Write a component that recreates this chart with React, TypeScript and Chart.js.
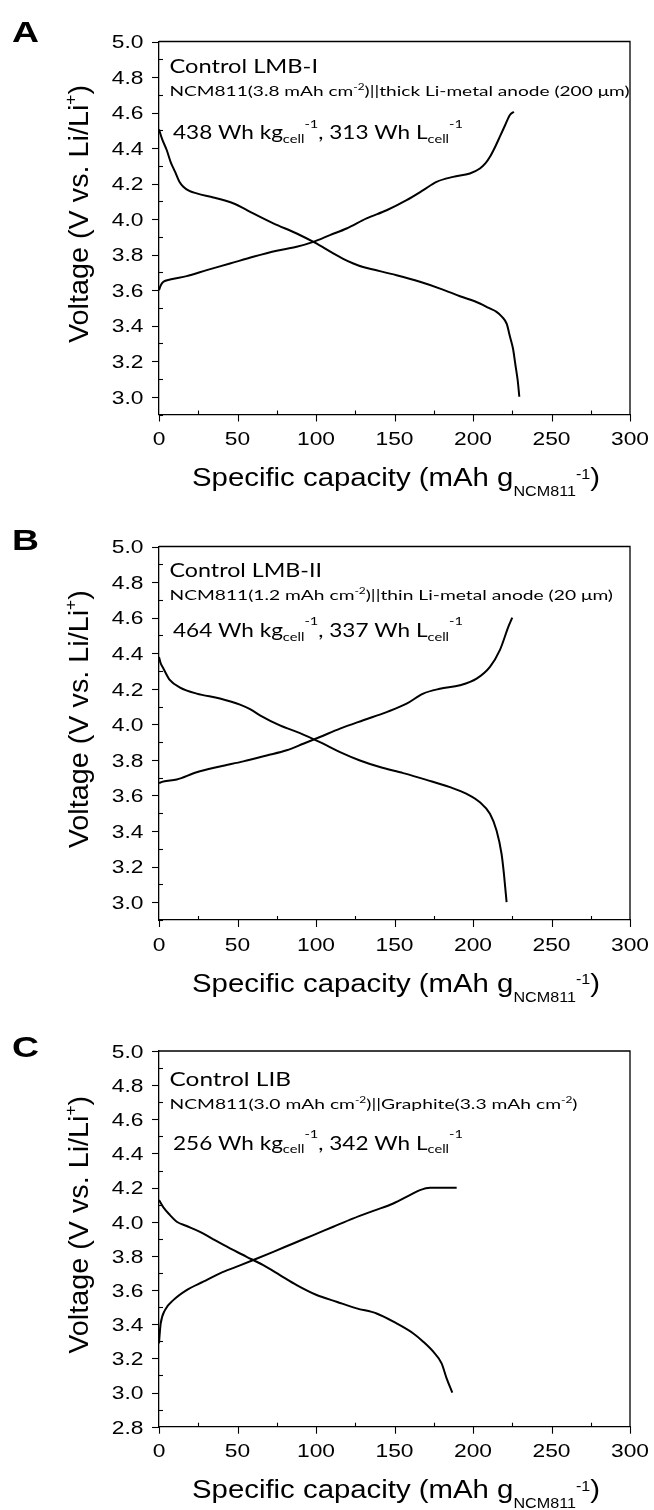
import React, { useEffect, useRef } from 'react';
import { Chart, registerables } from 'chart.js';

Chart.register(...registerables);

// ---------------- data ----------------
const xTicks = [0, 50, 100, 150, 200, 250, 300];

const aDisX = [0, 2, 4.9, 7.5, 10.2, 13, 15.5, 19, 24, 34.6, 42, 48.4, 54, 60, 72.8, 87.7, 99.3, 111, 117, 123.8, 130, 136.5, 151.3, 166.2, 179, 191.7, 204.4, 210, 215, 218.5, 221.5, 223.5, 225.5, 227, 228.5, 229.5];
const aDisY = [4.505, 4.45, 4.389, 4.32, 4.267, 4.21, 4.182, 4.16, 4.145, 4.122, 4.105, 4.085, 4.06, 4.032, 3.976, 3.919, 3.867, 3.807, 3.778, 3.75, 3.73, 3.716, 3.684, 3.647, 3.609, 3.566, 3.525, 3.5, 3.478, 3.45, 3.41, 3.34, 3.27, 3.18, 3.09, 3.0];
const aChX = [0, 1, 2.8, 7, 17.6, 30.4, 45.2, 60, 75, 87.7, 98.3, 108.9, 119.5, 132.2, 145, 157.7, 168.3, 176.8, 187.4, 198, 204.4, 208, 210.8, 214, 217.1, 220.5, 223.5, 226];
const aChY = [3.6, 3.625, 3.647, 3.66, 3.679, 3.713, 3.75, 3.788, 3.822, 3.844, 3.872, 3.91, 3.947, 4.004, 4.05, 4.107, 4.163, 4.21, 4.238, 4.257, 4.285, 4.315, 4.351, 4.405, 4.464, 4.53, 4.586, 4.605];

const bDisX = [0, 1, 2.8, 7, 13.4, 24, 38.8, 51.6, 58, 64.3, 77, 89.8, 102.5, 115.3, 128, 140.7, 155.6, 170.4, 185.3, 196, 204.4, 210.8, 215, 218.2, 219.7, 221.4];
const bDisY = [4.379, 4.345, 4.314, 4.248, 4.207, 4.173, 4.145, 4.111, 4.085, 4.051, 3.994, 3.951, 3.9, 3.844, 3.797, 3.76, 3.726, 3.688, 3.647, 3.609, 3.562, 3.497, 3.403, 3.271, 3.159, 3.0];
const bChX = [0, 2.8, 11.3, 24, 38.8, 53.7, 68.6, 81.3, 91.9, 102.5, 115.3, 130.1, 145, 157.7, 168.3, 178.9, 191.7, 202.3, 210.8, 217.1, 222.5, 225];
const bChY = [3.67, 3.679, 3.69, 3.731, 3.763, 3.792, 3.825, 3.854, 3.891, 3.929, 3.976, 4.023, 4.069, 4.116, 4.173, 4.2, 4.22, 4.257, 4.323, 4.417, 4.548, 4.6];

const cDisX = [0, 2.8, 7, 11.3, 17.6, 26.1, 34.6, 45.2, 55.8, 66.4, 77, 87.7, 100.4, 113.1, 125.9, 138.6, 151.3, 162, 168.3, 174.7, 180, 183.2, 186.8];
const cDisY = [4.127, 4.084, 4.039, 4.0, 3.975, 3.941, 3.897, 3.844, 3.795, 3.746, 3.688, 3.629, 3.571, 3.532, 3.493, 3.463, 3.405, 3.346, 3.298, 3.239, 3.171, 3.083, 3.0];
const cChX = [0, 0.5, 1.1, 3.8, 9.1, 17.6, 28.2, 38.8, 49.5, 60.1, 72.8, 85.5, 98.3, 111, 123.8, 136.5, 149.2, 159.8, 166.2, 172.6, 189.6];
const cChY = [3.288, 3.35, 3.405, 3.483, 3.541, 3.6, 3.649, 3.698, 3.737, 3.776, 3.824, 3.873, 3.922, 3.971, 4.02, 4.064, 4.107, 4.156, 4.185, 4.199, 4.199];

const panelLetters = ['A', 'B', 'C'];
const panelTitles = ['Control LMB-I', 'Control LMB-II', 'Control LIB'];
const yMins = [2.9, 2.9, 2.8];

type Seg = { t: string; k?: 'sub' | 'sup' };

const cellLine2: Seg[][] = [
  [{ t: 'NCM811(3.8 mAh cm' }, { t: '-2', k: 'sup' }, { t: ')||thick Li-metal anode (200 \u03bcm)' }],
  [{ t: 'NCM811(1.2 mAh cm' }, { t: '-2', k: 'sup' }, { t: ')||thin Li-metal anode (20 \u03bcm)' }],
  [{ t: 'NCM811(3.0 mAh cm' }, { t: '-2', k: 'sup' }, { t: ')||Graphite(3.3 mAh cm' }, { t: '-2', k: 'sup' }, { t: ')' }],
];
const energyKg = ['438', '464', '256'];
const energyL = ['313', '337', '342'];

const xTitle: Seg[] = [{ t: 'Specific capacity (mAh g' }, { t: 'NCM811', k: 'sub' }, { t: '-1', k: 'sup' }, { t: ')' }];
const yTitle: Seg[] = [{ t: 'Voltage (V vs. Li/Li' }, { t: '+', k: 'sup' }, { t: ')' }];

// ---------------- layout (style only) ----------------
const LAYOUT = [
  { top: 0, height: 505, padTop: 41.5, bottom: 414.5, letterBase: 42, l1: [31.8, 148.5], l2: [54.5, 460], l3: [97.8, 290] },
  { top: 505, height: 505, padTop: 41.5, bottom: 415, letterBase: 45, l1: [30.5, 152.5], l2: [53.5, 443.5], l3: [90.5, 290] },
  { top: 1010, height: 500, padTop: 41, bottom: 416.7, letterBase: 47, l1: [34.5, 121.5], l2: [58, 408], l3: [98.5, 290] },
];

const AXIS_FONT = '"Liberation Sans", Arial, sans-serif';
const NOTE_FONT = 'Lato, "Noto Sans", sans-serif';

interface RichOpts {
  size: number;
  family: string;
  small: number;
  subDy: number;
  supDy: number;
  weight?: string;
}

function richWidth(ctx: CanvasRenderingContext2D, segs: Seg[], o: RichOpts) {
  let w = 0;
  for (const s of segs) {
    const fs = s.k ? o.size * o.small : o.size;
    ctx.font = `${o.weight || 'normal'} ${fs}px ${o.family}`;
    w += ctx.measureText(s.t).width;
  }
  return w;
}

function drawRich(ctx: CanvasRenderingContext2D, segs: Seg[], x: number, y: number, targetW: number, o: RichOpts, align: 'left' | 'center' = 'left') {
  const nat = richWidth(ctx, segs, o);
  const sx = targetW / nat;
  ctx.save();
  ctx.translate(align === 'center' ? x - targetW / 2 : x, y);
  ctx.scale(sx, 1);
  ctx.textAlign = 'left';
  ctx.textBaseline = 'alphabetic';
  ctx.fillStyle = '#000';
  let cx = 0;
  for (const s of segs) {
    const fs = s.k ? o.size * o.small : o.size;
    ctx.font = `${o.weight || 'normal'} ${fs}px ${o.family}`;
    const dy = s.k === 'sub' ? o.subDy * o.size : s.k === 'sup' ? o.supDy * o.size : 0;
    ctx.fillText(s.t, cx, dy);
    cx += ctx.measureText(s.t).width;
  }
  ctx.restore();
}

function makeDecor(idx: number) {
  const L = LAYOUT[idx];
  return {
    id: 'decor' + idx,
    afterDraw(chart: any) {
      const ctx: CanvasRenderingContext2D = chart.ctx;
      const { left, right, top, bottom } = chart.chartArea;
      const xs = chart.scales.x;
      const ys = chart.scales.y;
      ctx.save();
      ctx.strokeStyle = '#000';
      ctx.lineWidth = 1.3;
      // frame top/right
      ctx.beginPath();
      ctx.moveTo(left, top);
      ctx.lineTo(right, top);
      ctx.lineTo(right, bottom);
      ctx.stroke();
      // y ticks: major (0.2) outward, minor inward
      ctx.lineWidth = 1.1;
      const yMin = ys.min, yMax = ys.max;
      for (let k = Math.round(yMin * 10); k <= Math.round(yMax * 10); k++) {
        const v = k / 10;
        const py = Math.round(ys.getPixelForValue(v)) + 0.5;
        ctx.beginPath();
        if (k % 2 === 0) { ctx.moveTo(left - 7, py); ctx.lineTo(left, py); }
        else { ctx.moveTo(left, py); ctx.lineTo(left + 4, py); }
        ctx.stroke();
      }
      for (let v = 0; v <= 300; v += 25) {
        const px = Math.round(xs.getPixelForValue(v)) + 0.5;
        ctx.beginPath();
        if (v % 50 === 0) { ctx.moveTo(px, bottom); ctx.lineTo(px, bottom + 7); }
        else { ctx.moveTo(px, bottom); ctx.lineTo(px, bottom - 4); }
        ctx.stroke();
      }
      // tick labels (from the library's ticks)
      const tsize = 19;
      const cap = tsize * 0.716;
      ctx.fillStyle = '#000';
      ctx.font = `${tsize}px ${AXIS_FONT}`;
      for (const t of ys.ticks) {
        const py = ys.getPixelForValue(t.value);
        ctx.save();
        ctx.translate(143.5, py + cap / 2);
        ctx.scale(1.2, 1);
        ctx.textAlign = 'right';
        ctx.textBaseline = 'alphabetic';
        ctx.fillText(Number(t.value).toFixed(1), 0, 0);
        ctx.restore();
      }
      for (const t of xs.ticks) {
        const px = xs.getPixelForValue(t.value);
        ctx.save();
        ctx.translate(px, bottom + 30.6);
        ctx.scale(1.2, 1);
        ctx.textAlign = 'center';
        ctx.textBaseline = 'alphabetic';
        ctx.fillText(String(t.value), 0, 0);
        ctx.restore();
      }
      // axis titles
      drawRich(ctx, xTitle, (left + right) / 2 + 1.5, bottom + 71.6, 408, { size: 26.5, family: AXIS_FONT, small: 0.55, subDy: 0.38, supDy: -0.27 }, 'center');
      ctx.save();
      ctx.translate(88, (top + bottom) / 2 - 14);
      ctx.rotate(-Math.PI / 2);
      drawRich(ctx, yTitle, 0, 0, 258, { size: 27.5, family: AXIS_FONT, small: 0.6, subDy: 0.3, supDy: -0.42 }, 'center');
      ctx.restore();
      // annotations
      const noteL1: Seg[] = [{ t: panelTitles[idx] }];
      drawRich(ctx, noteL1, 169.5, top + L.l1[0], L.l1[1], { size: 19, family: NOTE_FONT, small: 0.65, subDy: 0.2, supDy: -0.45 });
      drawRich(ctx, cellLine2[idx], 169.5, top + L.l2[0], L.l2[1], { size: 14, family: NOTE_FONT, small: 0.62, subDy: 0.2, supDy: -0.42 });
      const l3: Seg[] = [
        { t: `${energyKg[idx]} Wh kg` }, { t: 'cell', k: 'sub' }, { t: '-1', k: 'sup' },
        { t: `, ${energyL[idx]} Wh L` }, { t: 'cell', k: 'sub' }, { t: '-1', k: 'sup' },
      ];
      drawRich(ctx, l3, 173, top + L.l3[0], L.l3[1], { size: 19, family: NOTE_FONT, small: 0.65, subDy: 0.2, supDy: -0.62 });
      // panel letter
      drawRich(ctx, [{ t: panelLetters[idx] }], 12, L.letterBase, 27, { size: 30, family: AXIS_FONT, small: 1, subDy: 0, supDy: 0, weight: 'bold' });
      ctx.restore();
    },
  };
}

const series = [
  { disX: aDisX, disY: aDisY, chX: aChX, chY: aChY },
  { disX: bDisX, disY: bDisY, chX: bChX, chY: bChY },
  { disX: cDisX, disY: cDisY, chX: cChX, chY: cChY },
];

function toPts(xs: number[], ys: number[]) {
  return xs.map((x, i) => ({ x, y: ys[i] }));
}

function Panel({ idx }: { idx: number }) {
  const ref = useRef<HTMLCanvasElement | null>(null);
  const L = LAYOUT[idx];
  useEffect(() => {
    if (!ref.current) return;
    const s = series[idx];
    const ds = (data: { x: number; y: number }[]) => ({
      data,
      borderColor: '#000',
      borderWidth: 2,
      pointRadius: 0,
      fill: false,
      cubicInterpolationMode: 'monotone' as const,
    });
    const chart = new Chart(ref.current, {
      type: 'line',
      data: { datasets: [ds(toPts(s.disX, s.disY)), ds(toPts(s.chX, s.chY))] },
      options: {
        animation: false,
        responsive: false,
        maintainAspectRatio: false,
        devicePixelRatio: 1,
        layout: { padding: { top: L.padTop, left: 0, right: 24, bottom: 0 } },
        plugins: { legend: { display: false }, tooltip: { enabled: false } },
        scales: {
          x: {
            type: 'linear',
            min: xTicks[0],
            max: xTicks[xTicks.length - 1],
            ticks: { display: false, stepSize: 50 },
            grid: { display: false },
            border: { display: true, color: '#000', width: 1.3 },
            afterFit: (sc: any) => { sc.height = L.height - L.bottom; },
          },
          y: {
            type: 'linear',
            min: yMins[idx],
            max: 5.0,
            ticks: { display: false, stepSize: 0.2, includeBounds: false },
            grid: { display: false },
            border: { display: true, color: '#000', width: 1.3 },
            afterFit: (sc: any) => { sc.width = 159; },
          },
        },
      } as any,
      plugins: [makeDecor(idx)],
    });
    return () => chart.destroy();
  }, [idx]);
  return (
    <canvas
      ref={ref}
      width={654}
      height={L.height}
      style={{ position: 'absolute', left: 0, top: L.top, width: 654, height: L.height, display: 'block' }}
    />
  );
}

export default function App() {
  return (
    <div style={{ position: 'absolute', left: 0, top: 0, width: 654, height: 1510, background: '#fff' }}>
      <Panel idx={0} />
      <Panel idx={1} />
      <Panel idx={2} />
    </div>
  );
}
